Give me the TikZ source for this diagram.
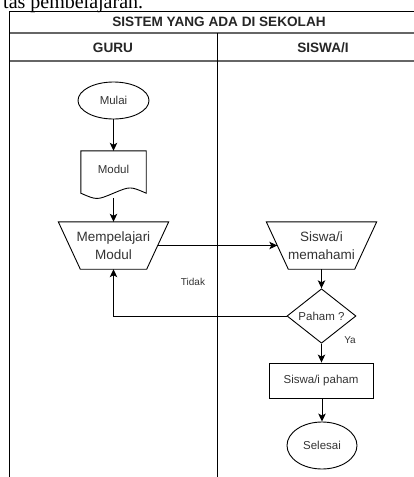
\documentclass[tikz,border=0pt]{standalone}
\usepackage{fontspec}
\setmainfont{Liberation Sans}
\newfontfamily\seriffont{Liberation Serif}
\usetikzlibrary{shapes.geometric,arrows.meta,calc}
\definecolor{txt}{HTML}{333333}
\definecolor{hdrline}{HTML}{666666}
\begin{document}
\begin{tikzpicture}[x=1pt,y=-1pt,
  shapeline/.style={draw=black,line width=0.9pt},
  small/.style={font=\fontsize{11.5}{13}\selectfont,text=txt},
  big/.style={font=\fontsize{13.5}{17.5}\selectfont,text=txt,align=center},
  lbl/.style={font=\fontsize{10}{12}\selectfont,text=txt},
  head/.style={font=\bfseries\fontsize{13.6}{15}\selectfont,text=black!85},
  oval/.style={ellipse,shapeline,inner sep=0pt,small},
  manop/.style={rectangle,minimum width=110pt,minimum height=47pt,inner sep=0pt,big},
  docbox/.style={rectangle,minimum width=65pt,minimum height=48pt,inner sep=0pt},
  decision/.style={diamond,shapeline,minimum width=69pt,minimum height=46pt,inner sep=0pt,small},
  procbox/.style={rectangle,shapeline,minimum width=104pt,minimum height=35pt,inner sep=0pt,small},
  flow/.style={line width=1pt,-{Stealth[length=8pt,width=7.5pt,inset=2pt]}},
  frameline/.style={draw=black,line width=1pt},
  sepline/.style={draw=hdrline,line width=1.2pt}
]
\useasboundingbox (0,0) rectangle (414,477);
\clip (0,0) rectangle (414,477);

% cropped text from the page above
\node[anchor=base west,inner sep=0pt,font=\seriffont\fontsize{20}{22}\selectfont] (toptext) at (3,8.5) {tas pembelajaran.};

% swimlane frame
\draw[sepline] (9.5,33) -- (440,33);
\draw[sepline] (9.5,61) -- (440,61);
\draw[frameline] (9.5,11) -- (440,11);
\draw[frameline] (9.5,11) -- (9.5,490);
\draw[frameline] (217,33) -- (217,490);
\node[head] (title) at (219,22) {SISTEM YANG ADA DI SEKOLAH};
\node[head] (guru) at (113,47.5) {GURU};
\node[head] (siswa) at (323,47.5) {SISWA/I};

% GURU lane
\node[oval,minimum width=71pt,minimum height=37pt] (mulai) at (113.5,100.5) {Mulai};
\node[docbox] (modul) at (113.5,175) {};
\draw[shapeline] (modul.north west) -- (modul.north east) -- ([yshift=6pt]modul.south east)
  .. controls ([xshift=-16pt,yshift=13pt]modul.south east) .. ([yshift=6pt]modul.south)
  .. controls ([xshift=16pt,yshift=-1pt]modul.south west) .. ([yshift=6pt]modul.south west) -- cycle;
\node[small] (modultext) at (113.5,169) {Modul};
\node[manop] (mp) at (113.5,245.5) {Mempelajari\\Modul};
\draw[shapeline] (mp.north west) -- (mp.north east) -- ([xshift=-22pt]mp.south east) -- ([xshift=22pt]mp.south west) -- cycle;

% SISWA lane
\node[manop] (sm) at (321.5,245.5) {Siswa/i\\memahami};
\draw[shapeline] (sm.north west) -- (sm.north east) -- ([xshift=-22pt]sm.south east) -- ([xshift=22pt]sm.south west) -- cycle;
\node[decision] (paham) at (321.5,316) {Paham ?};
\node[procbox] (sp) at (321,380.5) {Siswa/i paham};
\node[oval,minimum width=70pt,minimum height=47pt] (selesai) at (322,445.5) {Selesai};

% connectors
\draw[flow] (mulai.south) -- (modul.north);
\draw[flow] ([yshift=1pt]modul.south) -- (mp.north);
\draw[flow] ([xshift=-11pt]mp.east) -- ([xshift=11pt]sm.west);
\draw[flow] (sm.south) -- (paham.north);
\draw[flow] (paham.west) -- (mp.south |- paham.west) -- (mp.south);
\draw[flow] (paham.south) -- (sp.north -| paham.south);
\draw[flow] (sp.south -| selesai.north) -- (selesai.north);

\node[lbl] (tidak) at (193,282) {Tidak};
\node[lbl] (ya) at (350,340) {Ya};
\end{tikzpicture}
\end{document}
